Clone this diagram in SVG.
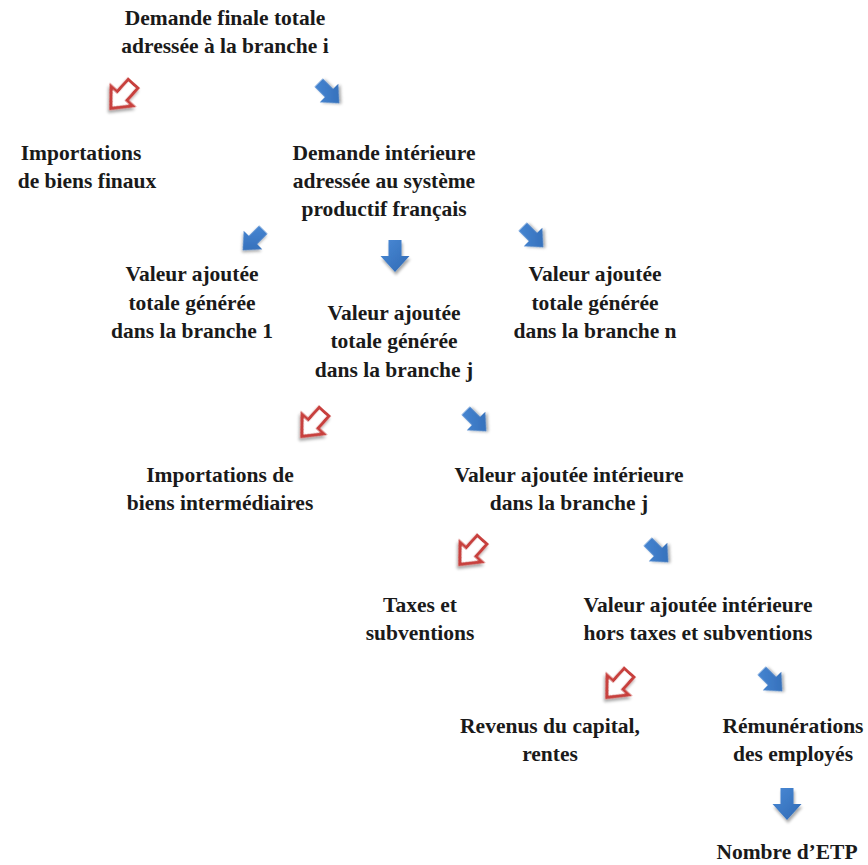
<svg xmlns="http://www.w3.org/2000/svg" width="868" height="865" viewBox="0 0 868 865">
<style>
.t{font-family:"Liberation Serif","DejaVu Serif",serif;font-weight:bold;font-size:21.5px;fill:#1a1a1a;text-anchor:middle}
.b{fill:url(#bg);filter:url(#sh)}
.r{fill:#fff;stroke:#c8413e;stroke-width:3.2;stroke-linejoin:miter;filter:url(#sh)}
</style>
<defs>
<linearGradient id="bg" x1="0" y1="0" x2="1" y2="1">
<stop offset="0" stop-color="#4a8ad6"/>
<stop offset="1" stop-color="#2f69b4"/>
</linearGradient>
<filter id="sh" x="-50%" y="-50%" width="200%" height="200%">
<feGaussianBlur in="SourceAlpha" stdDeviation="1.6"/>
<feOffset dx="1" dy="2.5" result="o"/>
<feComponentTransfer><feFuncA type="linear" slope="0.35"/></feComponentTransfer>
<feMerge><feMergeNode/><feMergeNode in="SourceGraphic"/></feMerge>
</filter>
<path id="ab" d="M-6.5,-16 H6.5 V0 H14.5 L0,16 L-14.5,0 H-6.5 Z"/>
<path id="ar" d="M-6.5,-16.5 H6.5 V0 H14.5 L0,16.5 L-14.5,0 H-6.5 Z"/>
</defs>
<g id="connectors">
<use href="#ar" class="r" transform="translate(122,96) rotate(42)"/>
<use href="#ab" class="b" transform="translate(329,93) rotate(-45) scale(0.9)"/>
<use href="#ab" class="b" transform="translate(253,240) rotate(45) scale(0.9)"/>
<use href="#ab" class="b" transform="translate(395,256)"/>
<use href="#ab" class="b" transform="translate(533,237) rotate(-45) scale(0.9)"/>
<use href="#ar" class="r" transform="translate(313,424) rotate(42)"/>
<use href="#ab" class="b" transform="translate(476,421) rotate(-45) scale(0.9)"/>
<use href="#ar" class="r" transform="translate(471,552) rotate(42)"/>
<use href="#ab" class="b" transform="translate(658,552) rotate(-45) scale(0.9)"/>
<use href="#ar" class="r" transform="translate(618,685) rotate(42)"/>
<use href="#ab" class="b" transform="translate(772,681) rotate(-45) scale(0.9)"/>
<use href="#ab" class="b" transform="translate(787,804)"/>
</g>
<g id="n1"><text class="t" x="225" y="25">Demande finale totale</text><text class="t" x="225" y="53">adressée à la branche i</text></g>
<g id="n2"><text class="t" x="81" y="160">Importations</text><text class="t" x="87" y="188">de biens finaux</text></g>
<g id="n3"><text class="t" x="384" y="160">Demande intérieure</text><text class="t" x="384" y="188">adressée au système</text><text class="t" x="384" y="216">productif français</text></g>
<g id="n4"><text class="t" x="192" y="281">Valeur ajoutée</text><text class="t" x="192" y="310">totale générée</text><text class="t" x="192" y="338">dans la branche 1</text></g>
<g id="n5"><text class="t" x="394" y="320">Valeur ajoutée</text><text class="t" x="394" y="348">totale générée</text><text class="t" x="394" y="377">dans la branche j</text></g>
<g id="n6"><text class="t" x="595" y="281">Valeur ajoutée</text><text class="t" x="595" y="310">totale générée</text><text class="t" x="595" y="338">dans la branche n</text></g>
<g id="n7"><text class="t" x="220" y="482">Importations de</text><text class="t" x="220" y="510">biens intermédiaires</text></g>
<g id="n8"><text class="t" x="569" y="482">Valeur ajoutée intérieure</text><text class="t" x="569" y="510">dans la branche j</text></g>
<g id="n9"><text class="t" x="420" y="612">Taxes et</text><text class="t" x="420" y="640">subventions</text></g>
<g id="n10"><text class="t" x="698" y="612">Valeur ajoutée intérieure</text><text class="t" x="698" y="640">hors taxes et subventions</text></g>
<g id="n11"><text class="t" x="550" y="733">Revenus du capital,</text><text class="t" x="550" y="761">rentes</text></g>
<g id="n12"><text class="t" x="793" y="733">Rémunérations</text><text class="t" x="793" y="761">des employés</text></g>
<g id="n13"><text class="t" x="787" y="859">Nombre d’ETP</text></g>
</svg>
